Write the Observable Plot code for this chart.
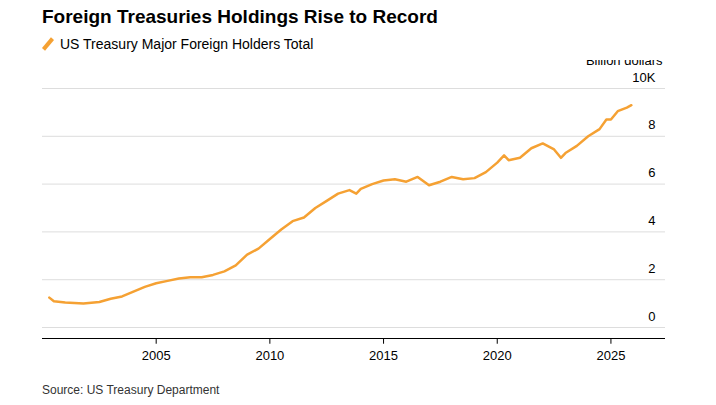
<!DOCTYPE html>
<html><head>
<script src="https://cdn.jsdelivr.net/npm/d3@7"></script>
<script src="https://cdn.jsdelivr.net/npm/@observablehq/plot@0.6"></script>
<style>
body{margin:0;font-family:"Liberation Sans",Arial,sans-serif;background:#fff;}
#t{position:absolute;left:42px;top:6px;font-size:19px;font-weight:bold;color:#000;}
#l{position:absolute;left:42px;top:36px;font-size:14px;color:#000;}
#l span{display:inline-block;width:4px;height:14px;background:#f5a133;transform:rotate(40deg);margin:0 10px -2px 4px;}
#c{position:absolute;left:0;top:60px;}
#s{position:absolute;left:42px;top:383px;font-size:12px;color:#333;}
</style></head><body>
<div id="t">Foreign Treasuries Holdings Rise to Record</div>
<div id="l"><span></span>US Treasury Major Foreign Holders Total</div>
<div id="c"></div>
<div id="s">Source: US Treasury Department</div>
<script>
const years=[2000.3,2000.5,2001,2001.8,2002.5,2003,2003.5,2004,2004.5,2005,2005.5,2006,2006.5,2007,2007.5,2008,2008.5,2009,2009.5,2010,2010.5,2011,2011.5,2012,2012.5,2013,2013.5,2013.8,2014,2014.5,2015,2015.5,2016,2016.5,2017,2017.5,2018,2018.5,2019,2019.5,2020,2020.3,2020.5,2021,2021.5,2022,2022.5,2022.8,2023,2023.5,2024,2024.5,2024.8,2025,2025.3,2025.7,2025.9];
const values=[1.25,1.1,1.05,1.0,1.07,1.2,1.3,1.5,1.7,1.85,1.95,2.05,2.1,2.1,2.2,2.35,2.6,3.05,3.3,3.7,4.1,4.45,4.6,5.0,5.3,5.6,5.75,5.6,5.8,6.0,6.15,6.2,6.1,6.3,5.95,6.1,6.3,6.2,6.25,6.5,6.9,7.2,7.0,7.1,7.5,7.7,7.45,7.1,7.3,7.6,8.0,8.3,8.7,8.7,9.05,9.2,9.3];
const yTicks=[0,2,4,6,8,10];
const yLabels=["0","2","4","6","8","10K"];
const xTicks=[2005,2010,2015,2020,2025];
const data=years.map((y,i)=>({x:y,v:values[i]}));
const p=Plot.plot({width:716,height:310,marginLeft:42,marginRight:51,marginTop:28,marginBottom:32,
 style:{fontFamily:"Liberation Sans, Arial, sans-serif",fontSize:"13px"},
 x:{type:"linear",domain:[2000,2027.4],axis:null},y:{type:"linear",domain:[-0.46,10],axis:null},
 marks:[
  Plot.ruleY(yTicks,{stroke:"#ddd"}),
  Plot.ruleY([-0.46],{stroke:"#000"}),
  Plot.ruleX(xTicks,{y1:-0.46,y2:-0.7,stroke:"#000"}),
  Plot.text(xTicks,{x:d=>d,y:-0.46,dy:17,text:d=>String(d),fontSize:13,fill:"#000"}),
  Plot.text(yTicks,{x:2027.4,y:d=>d,dy:-11,dx:-10,textAnchor:"end",text:(d,i)=>yLabels[i],fontSize:13,fill:"#000"}),
  Plot.text(["Billion dollars"],{x:2027.4,y:10,dy:-28,dx:-3,textAnchor:"end",fontSize:13,fill:"#000"}),
  Plot.line(data,{x:"x",y:"v",stroke:"#f5a133",strokeWidth:2.5})
 ]});
document.getElementById("c").append(p);
</script></body></html>
